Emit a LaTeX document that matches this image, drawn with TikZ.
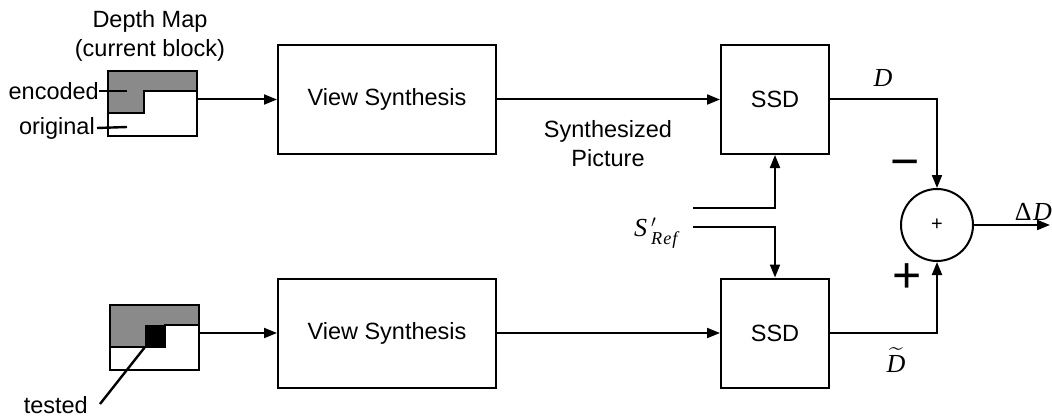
\documentclass[tikz,border=0pt]{standalone}
\usepackage{amsmath}
\usepackage{fontspec}
\setmainfont{Liberation Sans}
\newfontfamily\mfont{Liberation Serif}
\usetikzlibrary{arrows.meta}
\definecolor{dgray}{RGB}{138,138,138}
\begin{document}
\begin{tikzpicture}[x=1pt,y=-1pt,
  blk/.style={draw,line width=2pt,minimum width=218pt,minimum height=109pt,font=\fontsize{23.5}{28}\selectfont,inner sep=0},
  sqbox/.style={draw,line width=2pt,minimum width=108pt,minimum height=109pt,font=\fontsize{23.5}{28}\selectfont,inner sep=0},
  lbl/.style={font=\fontsize{23.5}{29}\selectfont,inner sep=0,align=center},
  mlbl/.style={font=\fontsize{26}{31}\selectfont\mfont,inner sep=0},
  sgn/.style={font=\fontsize{50}{50}\selectfont,inner sep=0},
  con/.style={line width=2pt},
  arr/.style={con,-{Triangle[length=13pt,width=10pt]}},
  dmap/.style={draw,line width=2.6pt,minimum width=89pt,minimum height=65pt,inner sep=0}]
\useasboundingbox (0,0) rectangle (1052,417);

% ---- depth map 1 (current block)
\fill[dgray] (108,71) -- (197,71) -- (197,91) -- (144,91) -- (144,113) -- (108,113) -- cycle;
\draw[line width=2.6pt] (108,113) -- (144,113) -- (144,91) -- (197,91);
\node[dmap] (dm1) at (152.5,103.5) {};
\node[lbl] (title) at (150,36) {Depth Map\\(current block)};
\node[lbl,anchor=east] (enc) at (99,91) {encoded};
\coordinate (encp) at (127,91);
\draw[line width=2.4pt] (enc.east) -- (encp);
\node[lbl,anchor=east] (orig) at (95,128) {original};
\coordinate (origp) at (127,127);
\draw[line width=2.4pt] ([xshift=2pt]orig.east) -- (origp);

% ---- depth map 2 (tested)
\fill[dgray] (110,305) -- (199,305) -- (199,325) -- (145,325) -- (145,347) -- (110,347) -- cycle;
\fill[black] (145,325) rectangle (165,347);
\draw[line width=2.6pt] (110,347) -- (165,347) -- (165,325) -- (199,325);
\node[dmap] (dm2) at (154.5,337.5) {};
\node[lbl,anchor=east] (tested) at (88,405) {tested};
\coordinate (tpt) at (145,347);
\draw[line width=2.4pt] (tpt) -- ([xshift=12pt,yshift=1pt]tested.east);

% ---- blocks
\node[blk] (vs1) at (387,99.5) {View Synthesis};
\node[blk] (vs2) at (387,333) {View Synthesis};
\node[sqbox] (ssd1) at (775,99.5) {SSD};
\node[sqbox] (ssd2) at (775,333) {SSD};
\node[draw,circle,line width=2pt,minimum size=72pt,inner sep=0,font=\fontsize{20}{20}\selectfont] (sum) at (937,225) {+};

% ---- labels
\node[lbl] (synth) at (608,144) {Synthesized\\Picture};
\node[mlbl] (sref) at (656,233) {$\text{\itshape S}\,'_{\text{\itshape R\kern1pt e\kern1pt f}}$};
\node[mlbl] (dlab) at (883,78) {\itshape D};
\node[mlbl] (dtl) at (896,360) {$\widetilde{\text{\itshape D}}$};
\node[mlbl,anchor=east] (dd) at (1052,212) {Δ\kern1.5pt\itshape D};
\node[sgn] (minus) at (905,169) {−};
\node[sgn] (plus) at (907,278) {+};

\coordinate (s1) at (693,208);
\coordinate (s2) at (693,227);
\coordinate (out) at (1050,225);

% ---- connectors
\draw[arr] (dm1.east |- vs1.west) -- (vs1.west);
\draw[arr] (vs1.east) -- (ssd1.west);
\draw[arr] (dm2.east |- vs2.west) -- (vs2.west);
\draw[arr] (vs2.east) -- (ssd2.west);
\draw[arr] (ssd1.east) -| (sum.north);
\draw[arr] (ssd2.east) -| (sum.south);
\draw[arr] (sum.east) -- (out);
\draw[arr] (s1) -| (ssd1.south);
\draw[arr] (s2) -| (ssd2.north);
\end{tikzpicture}
\end{document}
